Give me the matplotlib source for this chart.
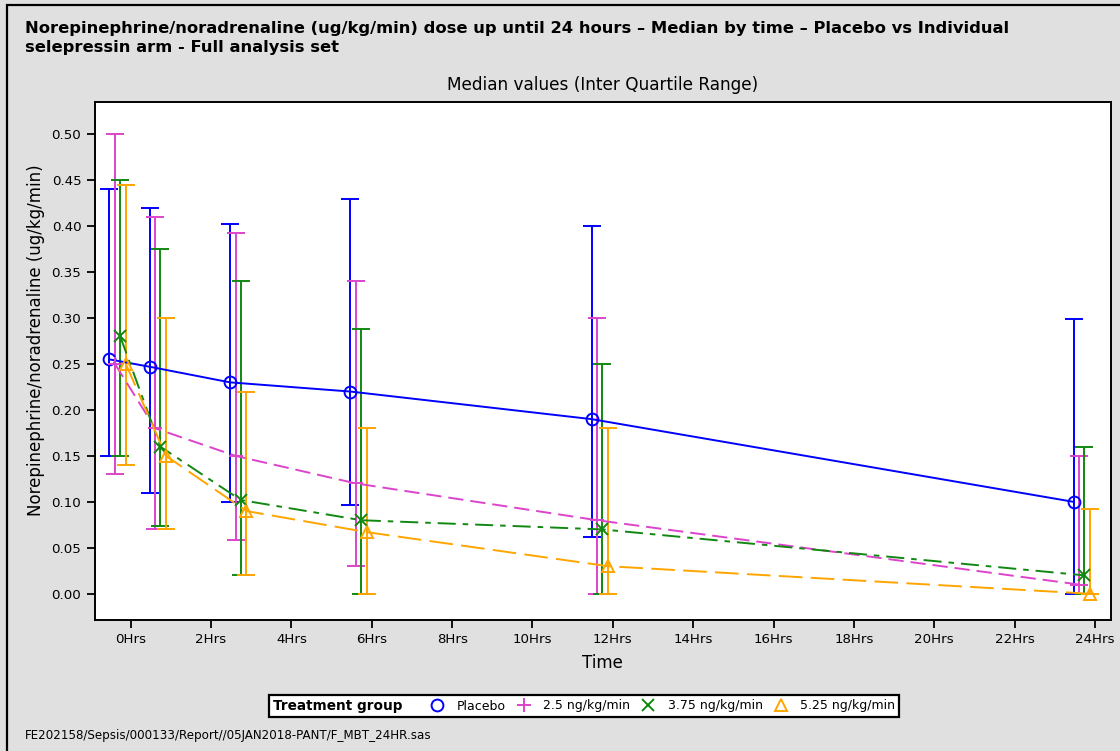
import matplotlib
matplotlib.use("Agg")
import matplotlib.pyplot as plt
from matplotlib.lines import Line2D
from matplotlib.patches import Rectangle
from matplotlib.offsetbox import HPacker
import numpy as np

plt.rcParams['font.family'] = ['DejaVu Sans']
plt.rcParams['lines.scale_dashes'] = False

# ---- data ----
times = [0, 1, 3, 6, 12, 24]
tick_hours = list(range(0, 25, 2))
tick_labels = [f"{h}Hrs" for h in tick_hours]
groups = ["Placebo", "2.5 ng/kg/min", "3.75 ng/kg/min", "5.25 ng/kg/min"]

placebo_med = [0.255, 0.247, 0.230, 0.220, 0.190, 0.100]
placebo_q1 = [0.150, 0.110, 0.100, 0.097, 0.062, 0.000]
placebo_q3 = [0.440, 0.420, 0.402, 0.430, 0.400, 0.299]

d25_med = [0.250, 0.180, 0.150, 0.120, 0.080, 0.010]
d25_q1 = [0.130, 0.070, 0.059, 0.030, 0.000, 0.010]
d25_q3 = [0.500, 0.410, 0.392, 0.340, 0.300, 0.150]

d375_med = [0.280, 0.160, 0.102, 0.080, 0.070, 0.020]
d375_q1 = [0.150, 0.074, 0.020, 0.000, 0.000, 0.000]
d375_q3 = [0.450, 0.375, 0.340, 0.288, 0.250, 0.160]

d525_med = [0.250, 0.150, 0.090, 0.067, 0.030, 0.000]
d525_q1 = [0.140, 0.070, 0.020, 0.000, 0.000, 0.000]
d525_q3 = [0.445, 0.300, 0.220, 0.180, 0.180, 0.092]

meds = [placebo_med, d25_med, d375_med, d525_med]
q1s = [placebo_q1, d25_q1, d375_q1, d525_q1]
q3s = [placebo_q3, d25_q3, d375_q3, d525_q3]

# ---- styles ----
offsets = [-0.53, -0.39, -0.26, -0.12]
colors = ['#0000FF', '#DD44CC', '#118811', '#FFA500']
markers = ['o', '+', 'x', '^']
msizes = [8.5, 10, 9, 9]
dashes = [None, (11, 5), (13, 5, 4, 5), (17, 6)]

fig = plt.figure(figsize=(11.2, 7.51), dpi=100, facecolor='#E0E0E0')
ax = fig.add_axes([94.5/1120, 1-619.5/751, (1111-94.5)/1120, (619.5-102)/751])
ax.set_facecolor('white')

for i in range(4):
    x = np.array(times) + offsets[i]
    med = np.array(meds[i])
    lo = med - np.array(q1s[i])
    hi = np.array(q3s[i]) - med
    ax.errorbar(x, med, yerr=[lo, hi], fmt='none', ecolor=colors[i],
                elinewidth=1.4, capsize=6.5, capthick=1.4, zorder=2)
    ln, = ax.plot(x, med, color=colors[i], lw=1.4, zorder=3,
                  marker=markers[i], markersize=msizes[i], markerfacecolor='none',
                  markeredgecolor=colors[i], markeredgewidth=1.4)
    if dashes[i] is not None:
        ln.set_dashes(dashes[i])

ax.set_xlim(-0.9, 24.4)
ax.set_ylim(-0.028, 0.535)
ax.set_xticks(tick_hours)
ax.set_xticklabels(tick_labels)
ax.set_yticks(np.arange(0, 0.501, 0.05))
ax.set_yticklabels([f"{v:.2f}" for v in np.arange(0, 0.501, 0.05)])
ax.tick_params(direction='out', length=5.5, width=1.3, labelsize=9.6, pad=4)
for s in ax.spines.values():
    s.set_linewidth(1.4)
ax.set_xlabel("Time", fontsize=12, labelpad=6)
ax.set_ylabel("Norepinephrine/noradrenaline (ug/kg/min)", fontsize=12, labelpad=6)
ax.yaxis.set_label_coords(-0.049, 0.54)

fig.text(603/1120, 1-85/751, "Median values (Inter Quartile Range)", ha='center', va='center', fontsize=12.2)
fig.text(25/1120, 1-21/751,
         "Norepinephrine/noradrenaline (ug/kg/min) dose up until 24 hours \u2013 Median by time \u2013 Placebo vs Individual\nselepressin arm - Full analysis set",
         ha='left', va='top', fontsize=11.75, fontweight='bold', linespacing=1.3)
fig.text(25/1120, 1-735/751, "FE202158/Sepsis/000133/Report//05JAN2018-PANT/F_MBT_24HR.sas",
         ha='left', va='center', fontsize=8.6)

# border of the figure
fig.patches.append(Rectangle((7/1120, -0.05), 1.2, (1-5/751)+0.05, transform=fig.transFigure,
                             fill=False, edgecolor='black', linewidth=1.6))

# legend
handles = [Line2D([], [], linestyle='none', marker=markers[i], markersize=msizes[i],
                  markerfacecolor='none', markeredgecolor=colors[i], markeredgewidth=1.4)
           for i in range(4)]
leg = fig.legend(handles, groups, loc='center', bbox_to_anchor=(584/1120, 1-706/751), ncol=4,
                 title="Treatment group", fontsize=9.0, frameon=True, fancybox=False,
                 edgecolor='black', facecolor='white', framealpha=1, handlelength=1.2,
                 handletextpad=0.95, columnspacing=0.85, borderpad=0.3)
leg.get_title().set_fontweight('bold')
leg.get_title().set_fontsize(9.8)
leg.get_frame().set_linewidth(1.6)
leg._legend_box.__class__ = HPacker
leg._legend_box.sep = 20

fig.savefig("out.png", dpi=100, facecolor=fig.get_facecolor())
